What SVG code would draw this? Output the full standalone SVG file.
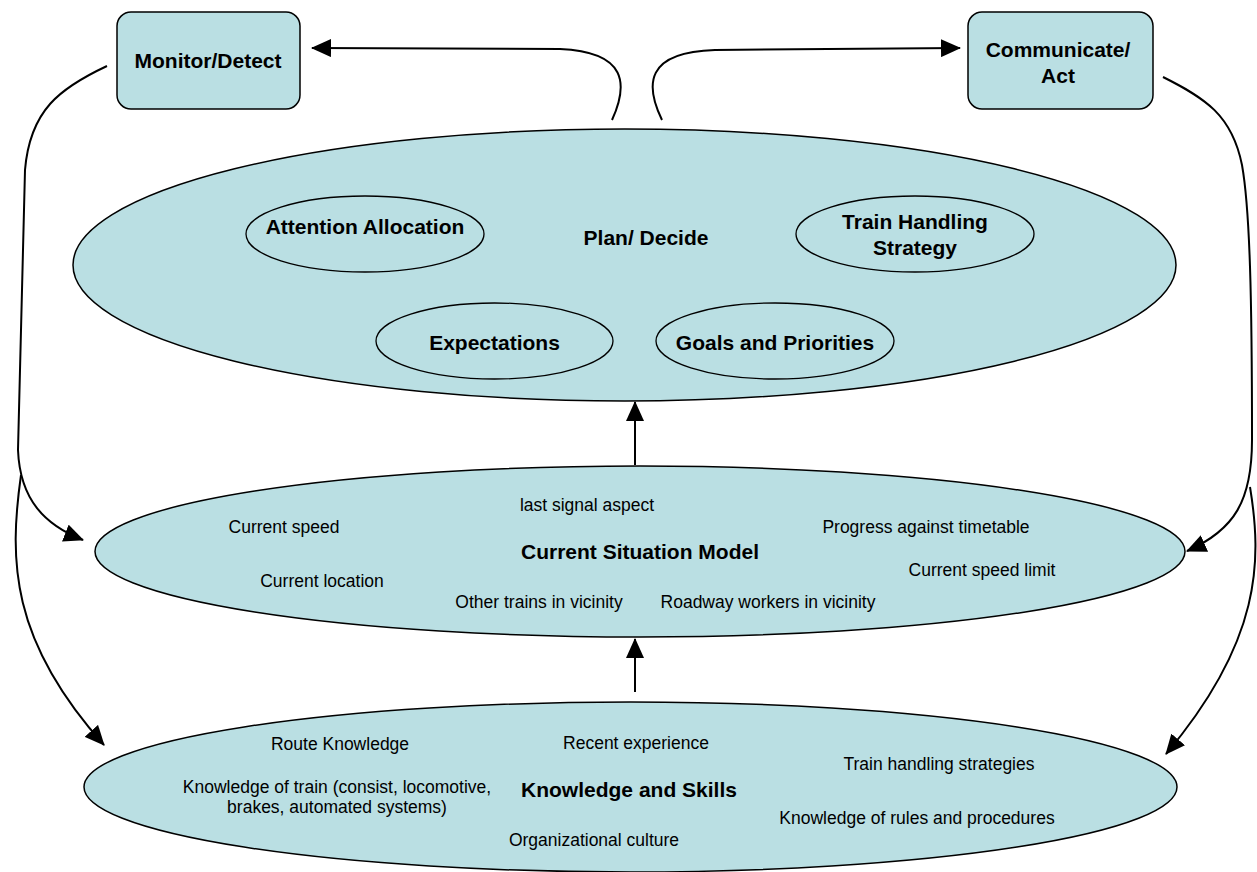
<svg xmlns="http://www.w3.org/2000/svg" width="1257" height="872" viewBox="0 0 1257 872">
<style>
.shape{fill:#BADFE3;stroke:#000;stroke-width:1.5}
.inner{fill:#BADFE3;stroke:#000;stroke-width:1.3}
.b{font-family:"Liberation Sans",Arial,sans-serif;font-weight:bold;font-size:21px;fill:#000;text-anchor:middle}
.r{font-family:"Liberation Sans",Arial,sans-serif;font-size:17.5px;fill:#000;text-anchor:middle}
.c{fill:none;stroke:#000;stroke-width:2}
</style>
<defs>
<marker id="ah" viewBox="0 0 20 18" refX="19" refY="9" markerWidth="20" markerHeight="18" orient="auto" markerUnits="userSpaceOnUse">
<path d="M0,0 L20,9 L0,18 z" fill="#000"/>
</marker>
</defs>
<rect width="1257" height="872" fill="#fff"/>
<g id="connectors">
<path class="c" d="M612,120 C628,85 628,52 560,49 L312,48" marker-end="url(#ah)"/>
<path class="c" d="M662,120 C645,85 645,52 715,50 L960,48" marker-end="url(#ah)"/>
<path class="c" d="M107,66 C60,88 30,110 25,170 L18,450 C20,500 45,525 83,540" marker-end="url(#ah)"/>
<path class="c" d="M21,475 C9,560 10,640 104,745" marker-end="url(#ah)"/>
<path class="c" d="M1163,77 C1205,98 1232,115 1242,165 C1250,210 1252,300 1252,440 C1252,500 1235,530 1187,551" marker-end="url(#ah)"/>
<path class="c" d="M1250,487 C1262,560 1262,640 1166,754" marker-end="url(#ah)"/>
<path class="c" d="M635,465 L635,402" marker-end="url(#ah)"/>
<path class="c" d="M635,692 L635,639" marker-end="url(#ah)"/>
</g>
<g id="monitor">
<rect class="shape" x="117" y="12" width="183" height="97" rx="14"/>
<text class="b" x="208" y="68">Monitor/Detect</text>
</g>
<g id="communicate">
<rect class="shape" x="968" y="12" width="185" height="97" rx="14"/>
<text class="b" x="1058" y="57">Communicate/</text>
<text class="b" x="1058" y="83">Act</text>
</g>
<g id="plan">
<ellipse class="shape" cx="624.5" cy="265" rx="551.5" ry="136"/>
<text class="b" x="646" y="245">Plan/ Decide</text>
</g>
<g id="attention">
<ellipse class="inner" cx="365" cy="234" rx="119" ry="38"/>
<text class="b" x="365" y="234">Attention Allocation</text>
</g>
<g id="train-handling">
<ellipse class="inner" cx="915" cy="234" rx="119" ry="38"/>
<text class="b" x="915" y="229">Train Handling</text>
<text class="b" x="915" y="255">Strategy</text>
</g>
<g id="expectations">
<ellipse class="inner" cx="494.5" cy="341" rx="118.5" ry="38"/>
<text class="b" x="494.5" y="350">Expectations</text>
</g>
<g id="goals">
<ellipse class="inner" cx="775" cy="341" rx="119" ry="38"/>
<text class="b" x="775" y="350">Goals and Priorities</text>
</g>
<g id="situation">
<ellipse class="shape" cx="640" cy="551.5" rx="545" ry="85.5"/>
<text class="r" x="587" y="511">last signal aspect</text>
<text class="r" x="284" y="533">Current speed</text>
<text class="r" x="926" y="533">Progress against timetable</text>
<text class="b" x="640" y="559">Current Situation Model</text>
<text class="r" x="322" y="587">Current location</text>
<text class="r" x="982" y="576">Current speed limit</text>
<text class="r" x="539" y="608">Other trains in vicinity</text>
<text class="r" x="768" y="608">Roadway workers in vicinity</text>
</g>
<g id="knowledge">
<ellipse class="shape" cx="630.5" cy="787" rx="546.5" ry="85"/>
<text class="r" x="340" y="750">Route Knowledge</text>
<text class="r" x="636" y="749">Recent experience</text>
<text class="r" x="939" y="770">Train handling strategies</text>
<text class="r" x="337" y="793">Knowledge of train (consist, locomotive,</text>
<text class="r" x="337" y="813">brakes, automated systems)</text>
<text class="b" x="629" y="797">Knowledge and Skills</text>
<text class="r" x="917" y="824">Knowledge of rules and procedures</text>
<text class="r" x="594" y="846">Organizational culture</text>
</g>
</svg>
